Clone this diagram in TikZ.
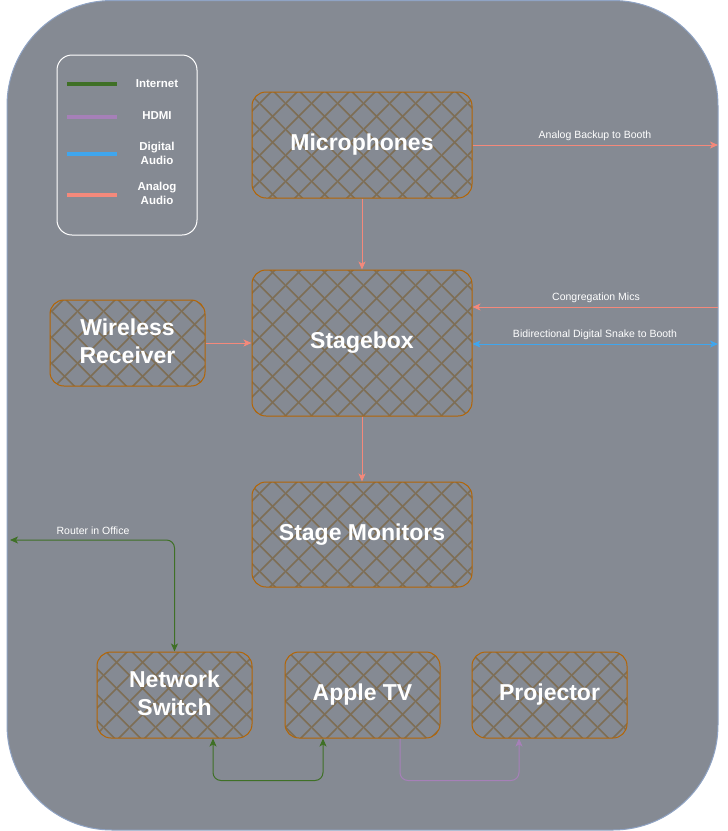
\documentclass[tikz,border=0pt]{standalone}
\usepackage{fontspec}
\setmainfont{Liberation Sans}
\usetikzlibrary{patterns.meta,arrows.meta}
\definecolor{bgc}{HTML}{858A93}
\definecolor{bgborder}{HTML}{8FA3C4}
\definecolor{boxc}{HTML}{B46504}
\definecolor{hatchc}{HTML}{7E6E55}
\definecolor{inetc}{HTML}{3F7026}
\definecolor{hdmic}{HTML}{A680B8}
\definecolor{digc}{HTML}{3FA6EE}
\definecolor{anac}{HTML}{F4897B}
\tikzdeclarepattern{
  name=xhatch,
  type=uncolored,
  bounding box={(0pt,0pt) and (26pt,26pt)},
  tile size={(26pt,26pt)},
  code={
    \draw[line width=1.6pt] (-2pt,-2pt) -- (28pt,28pt);
    \draw[line width=1.6pt] (-2pt,28pt) -- (28pt,-2pt);
  }
}
\tikzset{
  hbox/.style={draw=boxc, line width=1pt, rounded corners=14pt,
    pattern={xhatch}, pattern color=hatchc, text=white,
    font=\bfseries\fontsize{23}{28}\selectfont, align=center, inner sep=0pt},
  conn/.style={line width=1pt, rounded corners=8pt},
  analog/.style={conn, draw=anac, -{Stealth[length=8pt,width=7pt,inset=2pt]}},
  digital/.style={conn, draw=digc, {Stealth[length=8pt,width=7pt,inset=2pt]}-{Stealth[length=8pt,width=7pt,inset=2pt]}},
  inet/.style={conn, draw=inetc, {Stealth[length=8pt,width=7pt,inset=2pt]}-{Stealth[length=8pt,width=7pt,inset=2pt]}},
  hdmi/.style={conn, draw=hdmic, -{Stealth[length=8pt,width=7pt,inset=2pt]}},
  lbl/.style={text=white, font=\fontsize{10.5}{12}\selectfont, inner sep=0pt},
  legtxt/.style={text=white, font=\bfseries\fontsize{11.5}{14}\selectfont, align=center, inner sep=0pt},
  legline/.style={line width=4pt}
}
\begin{document}
\begin{tikzpicture}[x=1pt,y=-1pt]
\useasboundingbox (0,0) rectangle (728,831);
% background
\draw[fill=bgc, draw=bgborder, line width=1pt, rounded corners=105pt] (7,0.5) rectangle (718,830);
% legend
\node[draw=white, line width=1pt, rounded corners=15pt, minimum width=140pt, minimum height=180pt, inner sep=0pt] (legend) at (127,145) {};
\coordinate (l1a) at (67,84); \coordinate (l1b) at (117,84);
\coordinate (l2a) at (67,117); \coordinate (l2b) at (117,117);
\coordinate (l3a) at (67,154); \coordinate (l3b) at (117,154);
\coordinate (l4a) at (67,195); \coordinate (l4b) at (117,195);
\draw[legline, draw=inetc] (l1a) -- (l1b);
\draw[legline, draw=hdmic] (l2a) -- (l2b);
\draw[legline, draw=digc] (l3a) -- (l3b);
\draw[legline, draw=anac] (l4a) -- (l4b);
\node[legtxt] (t1) at (157,84) {Internet};
\node[legtxt] (t2) at (157,116) {HDMI};
\node[legtxt] (t3) at (157,153) {Digital\\Audio};
\node[legtxt] (t4) at (157,193) {Analog\\Audio};
% boxes
\node[hbox, minimum width=220pt, minimum height=106pt] (mic) at (362,145) {Microphones};
\node[hbox, minimum width=220pt, minimum height=146pt] (sb) at (362,343) {Stagebox};
\node[hbox, minimum width=155pt, minimum height=86pt] (wr) at (127.5,343) {};
\node[text=white, font=\bfseries\fontsize{23}{28}\selectfont, align=center, inner sep=0pt] (wrt) at (127.5,341) {Wireless\\Receiver};
\node[hbox, minimum width=220pt, minimum height=105pt] (sm) at (362,534.5) {Stage Monitors};
\node[hbox, minimum width=155pt, minimum height=86pt] (ns) at (174.5,695) {};
\node[text=white, font=\bfseries\fontsize{23}{28}\selectfont, align=center, inner sep=0pt] (nst) at (174.5,693) {Network\\Switch};
\node[hbox, minimum width=155pt, minimum height=86pt] (atv) at (362.5,695) {Apple TV};
\node[hbox, minimum width=155pt, minimum height=86pt] (proj) at (549.5,695) {Projector};
% free ends
\coordinate (booth1) at (718,145);
\coordinate (cong) at (718,307);
\coordinate (booth2) at (718,344);
\coordinate (router) at (10,540);
% connectors
\draw[analog] (mic.south) -- (sb.north);
\draw[analog] (mic.east) -- (booth1);
\node[lbl] (lb1) at (595,136) {Analog Backup to Booth};
\draw[analog] (cong) -- (sb.east |- cong);
\node[lbl] (lb2) at (596,298) {Congregation Mics};
\draw[digital] (sb.east |- booth2) -- (booth2);
\node[lbl] (lb3) at (595,335) {Bidirectional Digital Snake to Booth};
\draw[analog] (wr.east) -- (sb.west);
\draw[analog] (sb.south) -- (sm.north);
\draw[inet] (router) -- (ns.north |- router) -- (ns.north);
\node[lbl] (lb4) at (93,531) {Router in Office};
\draw[inet] ([xshift=38.5pt]ns.south) -- ++(0,42) -| ([xshift=-39.5pt]atv.south);
\draw[hdmi] ([xshift=37.5pt]atv.south) -- ++(0,42) -| ([xshift=-30.5pt]proj.south);
\end{tikzpicture}
\end{document}
